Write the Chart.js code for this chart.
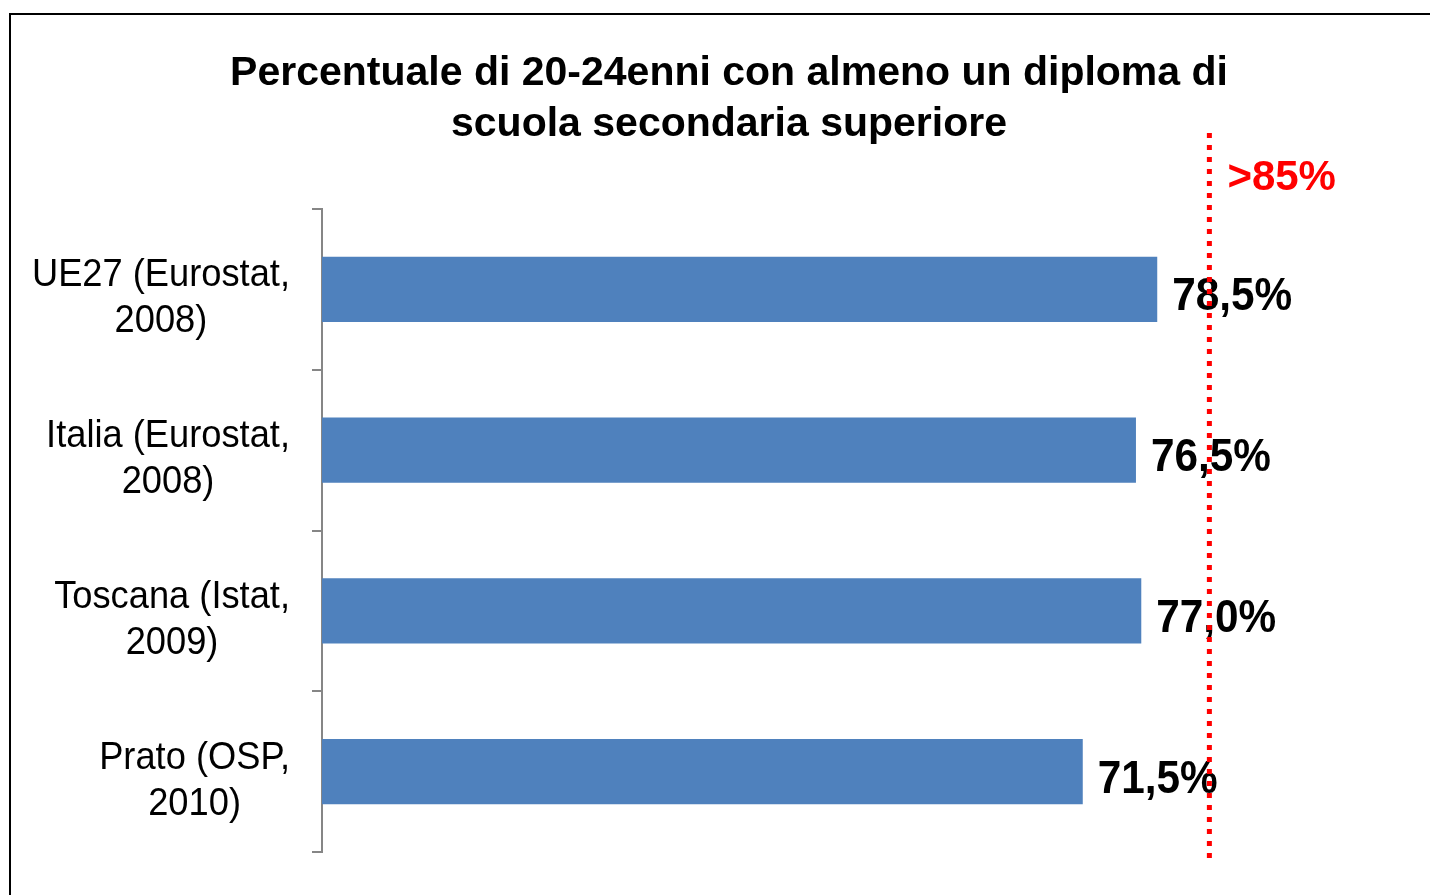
<!DOCTYPE html>
<html>
<head>
<meta charset="utf-8">
<script src="https://cdn.jsdelivr.net/npm/chart.js@4"></script>
<style>
  html, body { margin: 0; padding: 0; background: #fff; }
</style>
</head>
<body>
<canvas id="chart" width="1430" height="895"></canvas>
<script>
// chart data
const categories = [
  ['UE27 (Eurostat,', '2008)'],
  ['Italia (Eurostat,', '2008)'],
  ['Toscana (Istat,', '2009)'],
  ['Prato (OSP,', '2010)']
];
const values = [78.5, 76.5, 77.0, 71.5];
const targetValue = 83.4;   // where the dotted red line sits in the picture
const targetLabel = '>85%';
const titleLines = ['Percentuale di 20-24enni con almeno un diploma di', 'scuola secondaria superiore'];

const FONT = '"Liberation Sans", Arial, sans-serif';
const fmt = v => v.toFixed(1).replace('.', ',') + '%';

// frame, category labels, value labels and the target line
const decor = {
  id: 'decor',
  beforeDraw(chart) {
    const ctx = chart.ctx;
    ctx.save();
    ctx.fillStyle = '#fff';
    ctx.fillRect(0, 0, chart.width, chart.height);
    ctx.strokeStyle = '#000';
    ctx.lineWidth = 2;
    ctx.strokeRect(10, 14, chart.width + 20, chart.height + 20);
    ctx.restore();
  },
  afterDraw(chart) {
    const ctx = chart.ctx, xs = chart.scales.x, ys = chart.scales.y, area = chart.chartArea;
    ctx.save();
    ctx.fillStyle = '#000';
    ctx.textBaseline = 'alphabetic';

    // category labels: first line right aligned, second centred under it
    ctx.font = '39px ' + FONT;
    const sx = 0.93, right = area.left - 32;
    categories.forEach((lines, i) => {
      const cy = ys.getPixelForValue(i);
      const w1 = ctx.measureText(lines[0]).width * sx;
      const w2 = ctx.measureText(lines[1]).width * sx;
      ctx.save(); ctx.translate(right - w1, cy - 3); ctx.scale(sx, 1); ctx.fillText(lines[0], 0, 0); ctx.restore();
      ctx.save(); ctx.translate(right - w1 / 2 - w2 / 2, cy + 43); ctx.scale(sx, 1); ctx.fillText(lines[1], 0, 0); ctx.restore();
    });

    // value labels
    ctx.font = 'bold 47px ' + FONT;
    const vx = 0.9;
    values.forEach((v, i) => {
      const px = xs.getPixelForValue(v) + 15, py = ys.getPixelForValue(i) + 21;
      ctx.save(); ctx.translate(px, py); ctx.scale(vx, 1); ctx.fillText(fmt(v), 0, 0); ctx.restore();
    });

    // dotted target line
    const tx = xs.getPixelForValue(targetValue);
    ctx.strokeStyle = '#ff0000';
    ctx.lineWidth = 5;
    ctx.setLineDash([5, 7]);
    ctx.beginPath();
    ctx.moveTo(tx, area.top - 76);
    ctx.lineTo(tx, area.bottom + 6);
    ctx.stroke();
    ctx.setLineDash([]);

    ctx.fillStyle = '#ff0000';
    ctx.font = 'bold 42px ' + FONT;
    ctx.fillText(targetLabel, tx + 18, area.top - 19);
    ctx.restore();
  }
};

new Chart(document.getElementById('chart'), {
  type: 'bar',
  data: {
    labels: categories,
    datasets: [{
      data: values,
      backgroundColor: '#4f81bd',
      borderWidth: 0,
      categoryPercentage: 1,
      barPercentage: 0.405
    }]
  },
  options: {
    responsive: false,
    animation: false,
    indexAxis: 'y',
    layout: { padding: { left: 72, right: 44, top: 10, bottom: 43 } },
    plugins: {
      legend: { display: false },
      tooltip: { enabled: false },
      title: {
        display: true,
        text: titleLines,
        color: '#000',
        font: { family: FONT, size: 41, weight: 'bold', lineHeight: 1.244 },
        padding: { top: 38.5, bottom: 58.5 }
      }
    },
    scales: {
      x: { display: false, min: 0, max: 100 },
      y: {
        afterFit(s) { s.width = 250; },
        grid: { drawOnChartArea: false, offset: true, tickLength: 10, color: '#868686', lineWidth: 2 },
        border: { color: '#868686', width: 2 },
        ticks: { display: false }
      }
    }
  },
  plugins: [decor]
});
</script>
</body>
</html>
